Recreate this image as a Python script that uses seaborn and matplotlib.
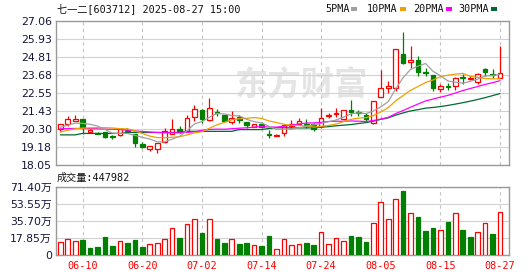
import numpy as np
import pandas as pd
import matplotlib
matplotlib.use("Agg")
import matplotlib.pyplot as plt
import seaborn as sns
from matplotlib.patches import Rectangle

# ---------------- data ----------------
dates = ["06-05", "06-06", "06-09", "06-10", "06-11", "06-12", "06-13", "06-16", "06-17", "06-18",
         "06-19", "06-20", "06-23", "06-24", "06-25", "06-26", "06-27", "06-30", "07-01", "07-02",
         "07-03", "07-04", "07-07", "07-08", "07-09", "07-10", "07-11", "07-14", "07-15", "07-16",
         "07-17", "07-18", "07-21", "07-22", "07-23", "07-24", "07-25", "07-28", "07-29", "07-30",
         "07-31", "08-01", "08-04", "08-05", "08-06", "08-07", "08-08", "08-11", "08-12", "08-13",
         "08-14", "08-15", "08-18", "08-19", "08-20", "08-21", "08-22", "08-25", "08-26", "08-27"]

opens = [20.30, 20.62, 20.83, 20.93, 20.15, 20.07, 20.12, 19.85, 19.92, 20.27,
         19.98, 19.40, 19.08, 19.08, 19.50, 20.02, 20.30, 20.21, 21.04, 21.50,
         20.85, 21.37, 21.18, 20.77, 21.06, 20.73, 20.46, 20.65, 20.01, 19.91,
         20.04, 20.50, 20.62, 20.62, 20.60, 20.51, 21.10, 21.25, 20.92, 21.50,
         21.35, 21.18, 20.67, 22.33, 22.85, 22.85, 24.98, 24.48, 24.62, 23.86,
         23.68, 22.81, 23.02, 23.00, 23.58, 23.42, 23.27, 24.04, 23.76, 23.52]
highs = [20.65, 21.12, 21.18, 20.95, 20.32, 20.15, 20.14, 19.92, 20.40, 20.40,
         20.00, 19.52, 19.28, 19.45, 20.40, 20.95, 20.50, 21.17, 21.81, 21.55,
         22.28, 21.56, 21.22, 21.46, 21.20, 20.75, 20.62, 20.75, 20.25, 20.02,
         20.65, 20.87, 20.98, 20.93, 20.66, 21.62, 21.30, 21.64, 21.52, 22.12,
         21.52, 21.30, 22.08, 24.00, 23.31, 25.32, 26.35, 25.50, 24.85, 24.14,
         23.70, 23.10, 23.17, 23.58, 23.73, 23.60, 23.83, 24.14, 24.06, 25.52]
lows = [20.22, 20.50, 20.83, 19.98, 20.08, 19.98, 19.77, 19.70, 19.90, 20.10,
        19.20, 19.10, 18.97, 18.83, 19.45, 19.98, 20.05, 20.19, 20.83, 20.70,
        20.82, 21.10, 20.73, 20.60, 20.72, 20.40, 20.45, 20.38, 19.73, 19.86,
        19.90, 20.35, 20.58, 20.38, 20.17, 20.39, 20.98, 21.04, 20.88, 21.10,
        21.14, 20.79, 20.65, 22.30, 22.54, 22.70, 24.40, 24.15, 23.62, 23.64,
        22.70, 22.64, 22.75, 22.77, 23.12, 23.35, 23.15, 23.62, 23.48, 23.50]
closes = [20.60, 20.92, 20.93, 20.36, 20.25, 20.03, 19.83, 19.81, 20.29, 20.22,
          19.45, 19.22, 19.27, 19.43, 20.19, 20.29, 20.13, 20.98, 21.56, 20.93,
          21.64, 21.33, 20.83, 21.02, 20.87, 20.55, 20.60, 20.44, 19.97, 19.95,
          20.56, 20.60, 20.80, 20.58, 20.31, 21.02, 21.16, 21.32, 21.50, 21.35,
          21.30, 20.93, 22.06, 22.85, 23.00, 25.30, 24.42, 24.62, 23.89, 23.80,
          22.89, 23.02, 22.97, 23.52, 23.47, 23.48, 23.73, 23.90, 23.71, 23.83]

# volume in 万 (10k shares)
volumes = [13.2, 16.4, 14.3, 15.7, 7.3, 8.4, 18.8, 9.4, 14.3, 12.5,
           15.7, 8.4, 11.1, 12.2, 16.4, 27.9, 17.8, 32.0, 37.6, 23.0,
           37.6, 16.7, 12.5, 16.4, 11.5, 12.5, 10.1, 9.4, 19.9, 5.9,
           16.4, 10.1, 11.1, 12.5, 10.4, 23.7, 11.1, 17.4, 14.3, 19.9,
           18.8, 13.6, 33.1, 55.0, 37.6, 58.5, 66.9, 43.5, 39.7, 25.1,
           28.6, 25.8, 34.5, 43.5, 26.1, 18.8, 23.7, 33.1, 21.9, 44.8]
vol_dirs = ["up", "up", "up", "down", "down", "down", "down", "down", "up", "down",
            "down", "down", "up", "up", "up", "up", "down", "up", "up", "down",
            "up", "down", "down", "up", "down", "down", "up", "down", "down", "up",
            "up", "up", "up", "down", "down", "up", "up", "up", "up", "down",
            "down", "down", "up", "up", "up", "up", "down", "up", "down", "down",
            "down", "up", "down", "up", "down", "down", "up", "up", "down", "up"]
last_volume = "447982"

# moving-average values before enough in-window history exists
ma5_head = [20.42, 20.55, 20.68, 20.67]
ma10_head = [20.12, 20.24, 20.33, 20.37, 20.39, 20.40, 20.40, 20.38, 20.34]
ma20_head = [20.33, 20.34, 20.35, 20.35, 20.34, 20.33, 20.31, 20.30, 20.29, 20.25,
             20.20, 20.16, 20.13, 20.10, 20.09, 20.08, 20.08, 20.10, 20.14]
ma30_head = [19.95, 19.95, 19.95, 20.04, 20.04, 20.04, 20.04, 20.04, 20.04, 20.10,
             20.10, 20.10, 20.10, 20.10, 20.10, 20.10, 20.10, 20.17, 20.17, 20.17,
             20.17, 20.17, 20.17, 20.17, 20.28, 20.28, 20.28, 20.28, 20.35]

price_ticks = [18.05, 19.18, 20.30, 21.43, 22.55, 23.68, 24.81, 25.93, 27.06]
price_tick_labels = ["18.05", "19.18", "20.30", "21.43", "22.55", "23.68", "24.81", "25.93", "27.06"]
vol_ticks = [0, 17.85, 35.70, 53.55, 71.40]
vol_tick_labels = ["0", "17.85万", "35.70万", "53.55万", "71.40万"]
date_labels = ["06-10", "06-20", "07-02", "07-14", "07-24", "08-05", "08-15", "08-27"]

title = "七一二[603712] 2025-08-27 15:00"
ma_names = ["5PMA", "10PMA", "20PMA", "30PMA"]
vol_title = "成交量:"
watermark = "东方财富"

# ---------------- styling ----------------
sns.set_theme(style="white")
plt.rcParams["font.family"] = ["DejaVu Sans", "Noto Sans CJK SC"]
mono = ["DejaVu Sans Mono", "Noto Sans CJK SC"]

RED = "#ff0000"
GREEN = "#008000"
MA_COLORS = ["#a0a0a0", "#f0a000", "#ff00ff", "#006a30"]
BORDER = "#9a9a9a"
GRID = "#d2d2d2"
LABEL = "#14143c"

W, H = 530, 276
fig = plt.figure(figsize=(W / 100, H / 100), dpi=100)
fig.patch.set_facecolor("white")

left, right = 56, 509.3
ax = fig.add_axes([left / W, 1 - 165.3 / H, (right - left) / W, 144.3 / H])
axv = fig.add_axes([left / W, 1 - 255 / H, (right - left) / W, 68.3 / H])

n = len(dates)
idx = np.arange(n)
o = np.array(opens); h = np.array(highs); l = np.array(lows); c = np.array(closes)
up = c >= o

# moving averages
cs = pd.Series(closes)
ma5 = np.concatenate([ma5_head, cs.rolling(5).mean().values[4:]])
ma10 = np.concatenate([ma10_head, cs.rolling(10).mean().values[9:]])
ma20 = np.concatenate([ma20_head, cs.rolling(20).mean().values[19:]])
ma30 = np.concatenate([ma30_head, cs.rolling(30).mean().values[29:]])

tick_pos = [dates.index(d) for d in date_labels]
xlim = (-0.58, 60.24)

# ---------------- price panel ----------------
for a in (ax, axv):
    a.set_facecolor("white")
    for s in a.spines.values():
        s.set_color(BORDER)
        s.set_linewidth(1.0)
    a.set_xticks(tick_pos)
    a.grid(axis="x", color="#c4c4c4", linestyle=(0, (3, 3)), linewidth=0.8)
    a.grid(axis="y", color=GRID, linestyle="-", linewidth=0.8)
    a.set_axisbelow(True)
    a.tick_params(length=0)

ax.text(0.54, 0.55, watermark, transform=ax.transAxes, ha="center", va="center",
        fontsize=24, fontweight="bold", color="#e4e4e4",
        family=["Noto Sans CJK SC"], zorder=0.5)

body_w = 0.62
# wicks
ax.vlines(idx[up], l[up], h[up], color=RED, linewidth=0.9, zorder=2)
ax.vlines(idx[~up], l[~up], h[~up], color=GREEN, linewidth=0.9, zorder=2)
# bodies
hgt = np.maximum(np.abs(c - o), 0.03)
bot = np.minimum(o, c)
ax.bar(idx[up], hgt[up], bottom=bot[up], width=body_w, facecolor="white",
       edgecolor=RED, linewidth=0.9, zorder=3)
ax.bar(idx[~up], hgt[~up], bottom=bot[~up], width=body_w, facecolor=GREEN,
       edgecolor=GREEN, linewidth=0.9, zorder=3)

ma_df = pd.DataFrame({"i": idx, "MA5": ma5, "MA10": ma10, "MA20": ma20, "MA30": ma30})
for name, col, z in zip(["MA30", "MA20", "MA10", "MA5"], MA_COLORS[::-1], [4, 4.1, 4.2, 4.3]):
    sns.lineplot(data=ma_df, x="i", y=name, ax=ax, color=col, linewidth=0.9, zorder=z)

ax.set_xlim(*xlim)
ax.set_ylim(price_ticks[0], price_ticks[-1])
ax.set_yticks(price_ticks)
ax.set_yticklabels(price_tick_labels, fontsize=7.8, color=LABEL)
ax.tick_params(axis="y", pad=3)
ax.set_xticklabels([])
ax.set_xlabel("")
ax.set_ylabel("")

# ---------------- volume panel ----------------
vol_df = pd.DataFrame({"i": idx, "vol": volumes, "dir": vol_dirs})
n0 = len(axv.patches)
sns.barplot(data=vol_df[vol_df["dir"] == "up"], x="i", y="vol", native_scale=True,
            width=0.62, color=RED, saturation=1, errorbar=None, ax=axv, zorder=3)
for p in axv.patches[n0:]:
    p.set_facecolor("white")
    p.set_edgecolor(RED)
    p.set_linewidth(0.9)
n1 = len(axv.patches)
sns.barplot(data=vol_df[vol_df["dir"] == "down"], x="i", y="vol", native_scale=True,
            width=0.62, color=GREEN, saturation=1, errorbar=None, ax=axv, zorder=3)
for p in axv.patches[n1:]:
    p.set_facecolor(GREEN)
    p.set_edgecolor(GREEN)
    p.set_linewidth(0.9)

axv.set_xlim(*xlim)
axv.set_ylim(vol_ticks[0], vol_ticks[-1])
axv.set_yticks(vol_ticks)
axv.set_yticklabels(vol_tick_labels, fontsize=7.8, color=LABEL)
axv.set_xticks(tick_pos)
axv.set_xticklabels(date_labels, fontsize=7.3, color=RED, family=mono)
axv.tick_params(axis="y", pad=3)
axv.tick_params(axis="x", pad=4)
axv.set_xlabel("")
axv.set_ylabel("")

# ---------------- header texts ----------------
fig.text(57 / W, 1 - 8.5 / H, title, ha="left", va="center", fontsize=7.3,
         family=mono, color="#111111")
leg_x = [325, 367, 413, 458]
for name, col, x0 in zip(ma_names, MA_COLORS, leg_x):
    t = fig.text(x0 / W, 1 - 8.5 / H, name, ha="left", va="center", fontsize=7.3,
                 family=mono, color="#111111")
    tw = 6.1 * len(name)
    fig.add_artist(Rectangle(((x0 + tw + 2) / W, 1 - 10.5 / H), 6 / W, 4 / H,
                             transform=fig.transFigure, facecolor=col, edgecolor="none"))
fig.text(57 / W, 1 - 178 / H, vol_title + last_volume, ha="left", va="center",
         fontsize=7.3, family=mono, color="#111111")

fig.savefig("out.png", dpi=100, facecolor="white")
